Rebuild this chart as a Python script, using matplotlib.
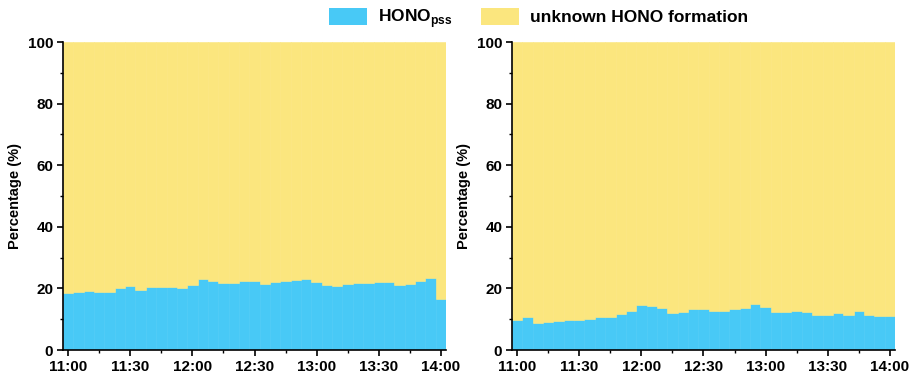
import numpy as np
import matplotlib
matplotlib.use("Agg")
import matplotlib.pyplot as plt
from matplotlib.patches import Patch

plt.rcParams['font.family'] = ['Liberation Sans', 'DejaVu Sans']
plt.rcParams['mathtext.fontset'] = 'custom'
plt.rcParams['mathtext.rm'] = 'Liberation Sans'
plt.rcParams['mathtext.bf'] = 'Liberation Sans:bold'

tick_labels = ['11:00', '11:30', '12:00', '12:30', '13:00', '13:30', '14:00']

# HONO_pss share (%) per 5-min interval, 11:00 - 14:00
left_pss = [18.4, 18.7, 19.1, 18.9, 18.9, 20.0, 20.7, 19.6, 20.4, 20.4,
            20.4, 20.2, 21.2, 23.0, 22.4, 21.9, 21.9, 22.4, 22.5, 21.3,
            22.2, 22.4, 22.7, 23.0, 22.0, 21.1, 20.8, 21.3, 21.6, 21.9,
            22.0, 22.0, 21.1, 21.3, 22.4, 23.3, 16.4]
right_pss = [9.6, 10.6, 8.8, 9.0, 9.3, 9.6, 9.8, 10.0, 10.6, 10.8,
             11.7, 12.6, 14.7, 14.2, 13.6, 12.1, 12.3, 13.2, 13.2, 12.6,
             12.8, 13.2, 13.6, 14.8, 13.9, 12.5, 12.5, 12.8, 12.3, 11.5,
             11.5, 11.9, 11.5, 12.8, 11.5, 11.2, 11.0]

blue = '#48c9f6'
yellow = '#fbe67e'

fig = plt.figure(figsize=(9.09, 3.76), dpi=100)
W, H = 909, 376
axL = fig.add_axes([63 / W, 1 - 350 / H, 383 / W, 308 / H])
axR = fig.add_axes([512 / W, 1 - 350 / H, 383 / W, 308 / H])

for ax, pss in [(axL, left_pss), (axR, right_pss)]:
    pss = np.array(pss)
    x = np.arange(len(pss)) * 5
    ax.bar(x, pss, width=5, color=blue, edgecolor=blue, linewidth=0.4)
    ax.bar(x, 100 - pss, bottom=pss, width=5, color=yellow, edgecolor=yellow, linewidth=0.4)
    ax.set_xlim(-2.5, 182.5)
    ax.set_ylim(0, 100)
    ax.set_xticks(np.arange(0, 181, 30))
    ax.set_xticklabels(tick_labels, fontweight='bold', fontsize=11)
    ax.set_xticks(np.arange(15, 181, 30), minor=True)
    ax.set_yticks(np.arange(0, 101, 20))
    ax.set_yticklabels([str(v) for v in range(0, 101, 20)], fontweight='bold', fontsize=11)
    ax.set_yticks(np.arange(10, 100, 20), minor=True)
    ax.tick_params(which='major', length=4, width=1.2, direction='out', pad=3)
    ax.tick_params(which='minor', length=2.5, width=1.0, direction='out')
    for s in ['top', 'right']:
        ax.spines[s].set_visible(False)
    for s in ['left', 'bottom']:
        ax.spines[s].set_linewidth(1.2)
    ax.set_ylabel('Percentage (%)', fontweight='bold', fontsize=10.5, labelpad=4)

handles = [Patch(facecolor=blue, edgecolor='none'), Patch(facecolor=yellow, edgecolor='none')]
labels = [r'HONO$_\mathbf{pss}$', 'unknown HONO formation']
leg = fig.legend(handles, labels, loc='center', bbox_to_anchor=(538.5 / W, 1 - 19 / H), ncol=2,
                 frameon=False, prop={'weight': 'bold', 'size': 12.5},
                 handlelength=2.2, handleheight=1.05, columnspacing=1.65, handletextpad=0.6)

fig.savefig('out.png', dpi=100)
